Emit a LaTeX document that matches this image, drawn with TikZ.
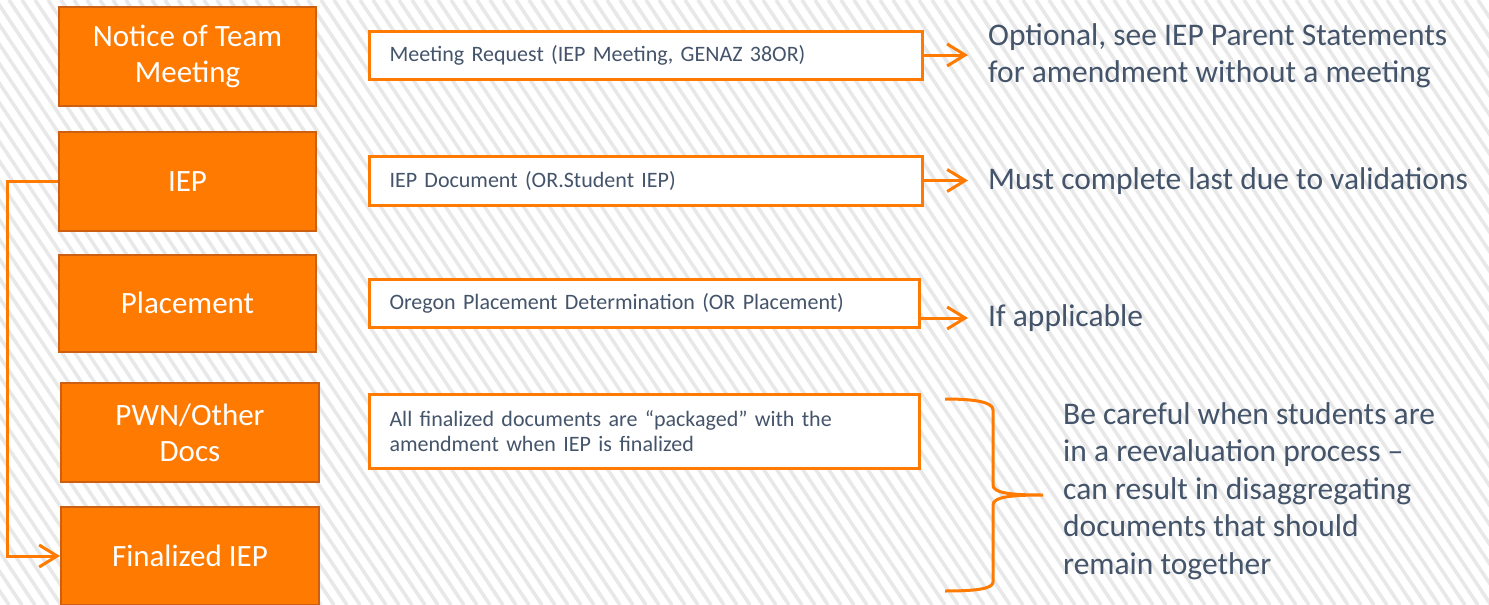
\documentclass[tikz,border=0pt]{standalone}
\usepackage{fontspec}
\setmainfont{Carlito}
\usetikzlibrary{arrows.meta}
\definecolor{orfill}{RGB}{255,122,0}
\definecolor{ordark}{RGB}{204,96,16}
\definecolor{txt}{RGB}{68,84,106}
\definecolor{stripe}{RGB}{232,232,232}
\begin{document}
\begin{tikzpicture}[x=1pt,y=-1pt,
 obox/.style={draw=ordark, line width=2pt, fill=orfill, text=white, align=center,
   font=\fontsize{31}{36}\selectfont, minimum width=257pt, minimum height=99pt, inner sep=0pt},
 wbox/.style={draw=orfill, line width=3pt, fill=white, text=txt, align=left,
   font=\fontsize{22}{25}\selectfont, inner xsep=20pt, inner ysep=0pt, anchor=west},
 note/.style={text=txt, align=left, font=\fontsize{31.5}{37.5}\selectfont,
   anchor=west, inner xsep=20pt, inner ysep=0pt},
 conn/.style={draw=orfill, line width=3pt, -{Straight Barb[length=18pt,width=22pt]}},
 brace/.style={draw=orfill, line width=3pt},
]
\useasboundingbox (0,0) rectangle (1489,605);
\fill[white] (0,0) rectangle (1489,605);
\begin{scope}
\clip (0,0) rectangle (1489,605);
\foreach \x in {-420,-407,...,1500} \draw[stripe, line width=3.5pt] (\x,0) -- ++(403,605);
\end{scope}

% orange step boxes
\node[obox] (n1) at (187.5,56.5) {Notice of Team\\Meeting};
\node[obox] (n2) at (187.5,181.5) {IEP};
\node[obox, minimum height=97pt] (n3) at (187.5,303) {Placement};
\node[obox, minimum width=258pt] (n4) at (190,432.5) {PWN/Other\\Docs};
\node[obox, minimum width=258pt, minimum height=98pt] (n5) at (190,556) {Finalized IEP};

% white boxes
\node[wbox, text width=513pt, minimum height=48pt] (w1) at (368,55) {Meeting Request (IEP Meeting, GENAZ 38OR)};
\node[wbox, text width=513pt, minimum height=49pt] (w2) at (368,180.5) {IEP Document (OR.Student IEP)};
\node[wbox, text width=510pt, minimum height=48pt] (w3) at (368,303) {Oregon Placement Determination (OR Placement)};
\node[wbox, text width=510pt, minimum height=74pt] (w4) at (368,431) {All finalized documents are “packaged” with the\\amendment when IEP is finalized};

% notes
\node[note] (t1) at (968,56) {Optional, see IEP Parent Statements\\for amendment without a meeting};
\node[note] (t2) at (968,181) {Must complete last due to validations};
\node[note] (t3) at (968,318) {If applicable};
\coordinate (brtip) at (1043,495);
\node[note] (t4) at (1043,491) {Be careful when students are\\in a reevaluation process --\\can result in disaggregating\\documents that should\\remain together};

% connectors
\draw[conn] (w1.east) -- (w1.east -| t1.west);
\draw[conn] (w2.east) -- (w2.east -| t2.west);
\draw[conn] (t3.west -| w3.east) -- (t3.west);
\draw[conn] (n2.west) -- ++(-51,0) |- (n5.west);

% brace
\draw[brace] (945,399) .. controls (975,399) and (993,402) .. (993,410) -- (993,485)
  .. controls (993,493) and (1010,495) .. (brtip)
  .. controls (1010,495) and (993,497) .. (993,505) -- (993,582)
  .. controls (993,589) and (975,591) .. (945,591);
\end{tikzpicture}
\end{document}
